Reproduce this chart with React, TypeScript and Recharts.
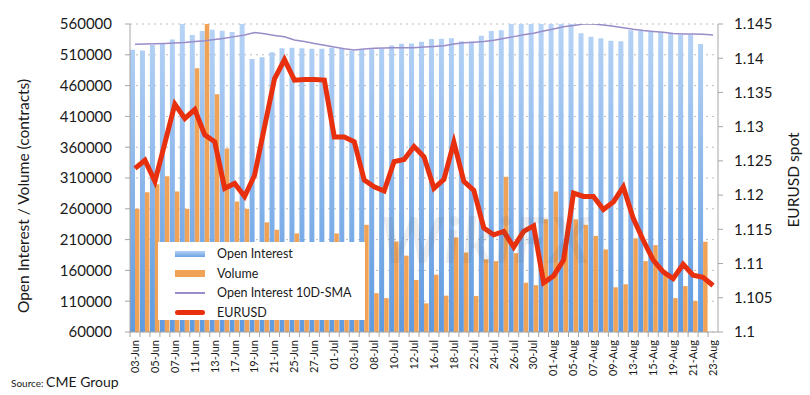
import { Bar, CartesianGrid, ComposedChart, Line, XAxis, YAxis } from "recharts";

const dates = [
    '03-Jun', '04-Jun', '05-Jun', '06-Jun', '07-Jun', '10-Jun', '11-Jun', '12-Jun', '13-Jun', '14-Jun',
    '17-Jun', '18-Jun', '19-Jun', '20-Jun', '21-Jun', '24-Jun', '25-Jun', '26-Jun', '27-Jun', '28-Jun',
    '01-Jul', '02-Jul', '03-Jul', '05-Jul', '08-Jul', '09-Jul', '10-Jul', '11-Jul', '12-Jul', '15-Jul',
    '16-Jul', '17-Jul', '18-Jul', '19-Jul', '22-Jul', '23-Jul', '24-Jul', '25-Jul', '26-Jul', '29-Jul',
    '30-Jul', '31-Jul', '01-Aug', '02-Aug', '05-Aug', '06-Aug', '07-Aug', '08-Aug', '09-Aug', '12-Aug',
    '13-Aug', '14-Aug', '15-Aug', '16-Aug', '19-Aug', '20-Aug', '21-Aug', '22-Aug', '23-Aug',
];

const openInterest = [
    518000, 517000, 526000, 527500, 535000, 562000, 542000, 548500, 550500, 549000,
    547000, 562000, 503000, 506000, 514000, 520500, 521500, 520500, 520000, 520000,
    521500, 520500, 516500, 519000, 519000, 520000, 525000, 528000, 528500, 531000,
    535500, 536000, 537000, 532000, 531000, 541000, 548500, 550000, 562000, 562000,
    562000, 562000, 562000, 562000, 562000, 545000, 539500, 537000, 533000, 532000,
    550000, 549000, 548000, 546500, 545000, 542500, 542500, 527500, null,
];

const volume = [
    260000, 287000, 300000, 313000, 288000, 260000, 488000, 575000, 446000, 358000,
    272000, 260000, 200000, 238000, 226000, 185000, 220000, 150000, 165000, 140000,
    220000, 175000, 130000, 234000, 123000, 115000, 207000, 184000, 144500, 106500,
    153000, 119000, 213500, 189000, 118500, 178000, 175000, 312000, 188000, 140000,
    136000, 243000, 288000, 200000, 243000, 234000, 216000, 194000, 132500, 137500,
    212000, 175000, 201000, 152500, 115000, 134500, 110500, 206500, null,
];

const oiSma = [
    527000, 527500, 528000, 528500, 529300, 530000, 531500, 533000, 535000, 536700,
    539500, 542200, 546000, 544000, 541500, 539300, 534000, 531500, 528500, 525500,
    522500, 520000, 518000, 519500, 520500, 521000, 521500, 521500, 521500, 522500,
    523500, 524700, 527500, 529500, 530500, 531500, 533500, 536500, 539500, 542500,
    545000, 548500, 552000, 555500, 557500, 560000, 560000, 558500, 556500, 554000,
    551500, 549500, 548000, 546500, 544500, 543800, 543800, 543500, 542000,
];

const eurusd = [
    1.1239, 1.1251, 1.1220, 1.1276, 1.1333, 1.1312, 1.1325, 1.1288, 1.1278, 1.1210,
    1.1217, 1.1198, 1.1229, 1.1300, 1.1370, 1.1398, 1.1368, 1.1369, 1.1369, 1.1368,
    1.1285, 1.1285, 1.1278, 1.1222, 1.1212, 1.1206, 1.1249, 1.1252, 1.1271, 1.1256,
    1.1210, 1.1223, 1.1277, 1.1220, 1.1207, 1.1152, 1.1142, 1.1147, 1.1124, 1.1147,
    1.1155, 1.1072, 1.1082, 1.1105, 1.1203, 1.1198, 1.1198, 1.1179, 1.1190, 1.1212,
    1.1166, 1.1134, 1.1105, 1.1088, 1.1078, 1.1099, 1.1083, 1.1080, 1.1068,
];

const leftTicks = [60000, 110000, 160000, 210000, 260000, 310000, 360000, 410000, 460000, 510000, 560000];
const rightTicks = [1.1, 1.105, 1.11, 1.115, 1.12, 1.125, 1.13, 1.135, 1.14, 1.145];

const data = dates.map((date, i) => ({
    date,
    oi: openInterest[i],
    vol: volume[i],
    sma: oiSma[i],
    fx: eurusd[i],
}));

const FONT = "Lato, 'Open Sans', sans-serif";

// every date gets a small boundary tick, only every other one gets a label
const DateTick = (props: any) => {
    const { x, y, payload, index } = props;
    const step = 588 / dates.length;
    return (
        <g>
            <line x1={x - step / 2} x2={x - step / 2} y1={y} y2={y + 5} stroke="#a6a6a6" />
            {index % 2 === 0 && (
                <text
                    transform={`translate(${x},${y + 8}) rotate(-90)`}
                    textAnchor="end"
                    dy="0.35em"
                    fontSize={11}
                    fontFamily={FONT}
                    fill="#1a1a1a"
                >
                    {payload.value}
                </text>
            )}
        </g>
    );
};

function LegendBox() {
    const row = { display: 'flex', alignItems: 'center', height: 19.5 } as const;
    const sw = { width: 30, marginRight: 12 } as const;
    return (
        <div style={{
            position: 'absolute', left: 158, top: 242, width: 207, height: 78,
            background: '#fff', padding: '2px 0 0 17px', boxSizing: 'border-box',
            fontFamily: FONT, fontSize: 12.5, color: '#1a1a1a',
        }}>
            <div style={row}><div style={{ ...sw, height: 6, background: 'linear-gradient(#b4d1f5,#6aa2e2)' }} /><span>Open Interest</span></div>
            <div style={row}><div style={{ ...sw, height: 7, background: '#f0a257' }} /><span>Volume</span></div>
            <div style={row}><div style={{ ...sw, height: 2, background: '#9a8cc8' }} /><span>Open Interest 10D-SMA</span></div>
            <div style={row}><div style={{ ...sw, height: 5, borderRadius: 3, background: '#e8300e' }} /><span>EURUSD</span></div>
        </div>
    );
}

const axisTitle = (cx: number, cy: number) => ({
    position: 'absolute' as const,
    left: cx,
    top: cy,
    transform: 'translate(-50%,-50%) rotate(-90deg)',
    whiteSpace: 'nowrap' as const,
    fontFamily: FONT,
    fontSize: 15.5,
    color: '#1a1a1a',
});

export default function App() {
    return (
        <div style={{ position: 'absolute', left: 0, top: 0, width: 810, height: 395, background: '#fff', fontFamily: FONT }}>
            <ComposedChart
                width={810}
                height={395}
                data={data}
                margin={{ top: 24, right: 0, left: 0, bottom: 0 }}
                barGap={0}
            >
                <defs>
                    <linearGradient id="oiFill" x1="0" y1="24" x2="0" y2="332" gradientUnits="userSpaceOnUse">
                        <stop offset="0" stopColor="#b8d4f6" />
                        <stop offset="1" stopColor="#5f9ae0" />
                    </linearGradient>
                </defs>
                <CartesianGrid yAxisId="left" vertical={false} stroke="#bdbdbd" strokeDasharray="2 4" />
                <XAxis
                    dataKey="date"
                    interval={0}
                    height={63}
                    tickSize={0}
                    tickMargin={0}
                    tick={<DateTick />}
                    stroke="#a6a6a6"
                />
                <YAxis
                    yAxisId="left"
                    width={130}
                    domain={[60000, 560000]}
                    ticks={leftTicks}
                    allowDataOverflow
                    tickSize={5}
                    tickMargin={13}
                    stroke="#a6a6a6"
                    tick={{ fontSize: 15, fill: '#1a1a1a', fontFamily: FONT }}
                />
                <YAxis
                    yAxisId="right"
                    orientation="right"
                    width={92}
                    domain={[1.1, 1.145]}
                    ticks={rightTicks}
                    allowDataOverflow
                    tickSize={5}
                    tickMargin={11}
                    stroke="#a6a6a6"
                    tickFormatter={(v: number) => String(+v.toFixed(3))}
                    tick={{ fontSize: 15, fill: '#1a1a1a', fontFamily: FONT, textAnchor: 'start' }}
                />
                <Bar yAxisId="left" dataKey="oi" barSize={5} fill="url(#oiFill)" isAnimationActive={false} />
                <Bar yAxisId="left" dataKey="vol" barSize={4.5} fill="#f0a257" isAnimationActive={false} />
                <Line yAxisId="left" dataKey="sma" stroke="#9a8cc8" strokeWidth={1.5} dot={false} isAnimationActive={false} />
                <Line yAxisId="right" dataKey="fx" stroke="#e8300e" strokeWidth={5} dot={false} isAnimationActive={false} />
            </ComposedChart>
            <div style={axisTitle(23, 196)}>Open Interest / Volume (contracts)</div>
            <div style={axisTitle(793, 180)}>EURUSD spot</div>
            <LegendBox />
            <div style={{
                position: 'absolute', left: 380, top: 200, fontSize: 64, fontWeight: 700, fontStyle: 'italic',
                color: 'rgba(90,90,90,0.10)', fontFamily: FONT, pointerEvents: 'none', letterSpacing: 2,
            }}>WikiFX</div>
            <div style={{ position: 'absolute', left: 11, top: 371, fontFamily: FONT, color: '#1a1a1a' }}>
                <span style={{ fontSize: 10 }}>Source: </span>
                <span style={{ fontSize: 14 }}>CME Group</span>
            </div>
        </div>
    );
}
